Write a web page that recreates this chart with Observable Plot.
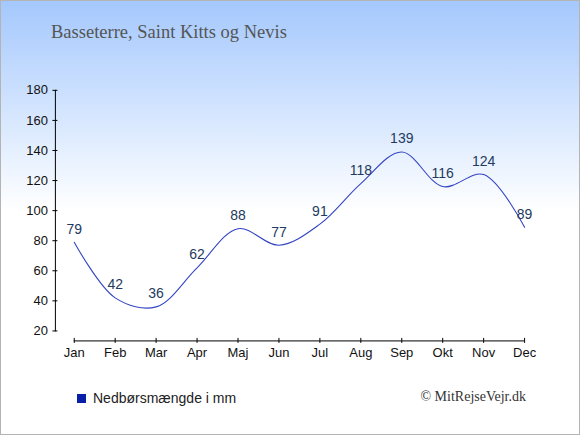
<!DOCTYPE html>
<html>
<head>
<meta charset="utf-8">
<script src="https://cdn.jsdelivr.net/npm/d3@7"></script>
<script src="https://cdn.jsdelivr.net/npm/@observablehq/plot@0.6"></script>
<style>
  html, body { margin: 0; padding: 0; }
  #wrap {
    position: relative; width: 580px; height: 435px; box-sizing: border-box;
    border: 1px solid #b4b4b4;
    background: linear-gradient(to bottom, #a4c8fd 0px, #ffffff 210px, #ffffff 435px);
    overflow: hidden;
  }
  #title {
    position: absolute; left: 50px; top: 21px;
    font-family: "Liberation Serif", "Times New Roman", serif; font-size: 18.5px; color: #555;
    white-space: nowrap;
  }
  #chart { position: absolute; left: -1px; top: -1px; }
  #legend {
    position: absolute; left: 76px; top: 389px;
    font-family: "Liberation Sans", Arial, sans-serif; font-size: 14px; color: #222;
    display: flex; align-items: center; white-space: nowrap;
  }
  #legend .sw { width: 9px; height: 9px; background: #0a1fa8; margin-right: 7px; }
  #copy {
    position: absolute; right: 53px; top: 388px;
    font-family: "Liberation Serif", "Times New Roman", serif; font-size: 14px; color: #333;
    white-space: nowrap;
  }
</style>
</head>
<body>
<div id="wrap">
  <div id="title">Basseterre, Saint Kitts og Nevis</div>
  <div id="chart"></div>
  <div id="legend"><span class="sw"></span><span>Nedbørsmængde i mm</span></div>
  <div id="copy">© MitRejseVejr.dk</div>
</div>
<script>
const months = ["Jan","Feb","Mar","Apr","Maj","Jun","Jul","Aug","Sep","Okt","Nov","Dec"];
const values = [79, 42, 36, 62, 88, 77, 91, 118, 139, 116, 124, 89];
const yTicks = [20, 40, 60, 80, 100, 120, 140, 160, 180];

const data = months.map((m, i) => ({i, m, v: values[i]}));
const idx = months.map((m, i) => i);

const chart = Plot.plot({
  width: 580,
  height: 370,
  marginTop: 90,
  marginBottom: 39,
  marginLeft: 55,
  marginRight: 55,
  style: {background: "transparent", fontFamily: "'Liberation Sans', Arial, sans-serif", fontSize: "13px", color: "#111"},
  x: {type: "linear", domain: [-0.46, 11], axis: null},
  y: {domain: [20, 180], axis: null},
  marks: [
    Plot.frame({anchor: "left", stroke: "#000"}),
    Plot.axisY({ticks: yTicks, label: null, tickSize: 5, dx: 2.5, tickPadding: 5, stroke: "#000", fill: "#111", fontSize: 13}),
    Plot.ruleY([20], {x1: 0, x2: 11, dy: 10, stroke: "#000"}),
    Plot.axisX({ticks: idx, label: null, tickFormat: i => months[i], tickSize: 5, dy: 7.5, tickPadding: 4, stroke: "#000", fill: "#111", fontSize: 13}),
    Plot.line(data, {x: "i", y: "v", curve: "catmull-rom", stroke: "#3344c4", strokeWidth: 1.1}),
    Plot.text(data, {x: "i", y: "v", text: d => String(d.v), dy: -13, fill: "#223a5e", fontSize: 14})
  ]
});
document.getElementById("chart").appendChild(chart);
</script>
</body>
</html>
